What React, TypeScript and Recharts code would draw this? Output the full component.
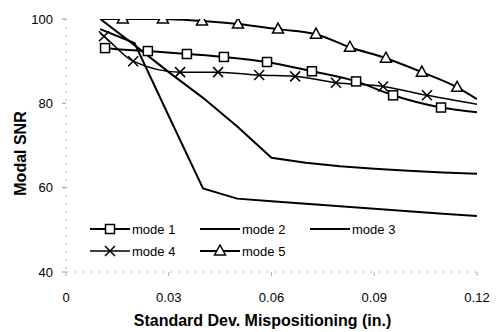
import { ComposedChart, Legend, Line, Scatter, XAxis, YAxis } from 'recharts';

type Pt = [number, number];

// marker positions: [std dev (in.), modal SNR]
const mode1Marks: Pt[] = [
  [0.0114, 93.1], [0.0239, 92.4], [0.0353, 91.7], [0.0461, 91.0], [0.0587, 89.8],
  [0.0718, 87.6], [0.0847, 85.2], [0.0955, 81.9], [0.1095, 79.0],
];
const mode1Ends: Pt[] = [[0.01, 93.3], [0.12, 77.9]];

const mode4Marks: Pt[] = [
  [0.0111, 95.9], [0.0196, 90.0], [0.0333, 87.4], [0.0444, 87.4], [0.0564, 86.7],
  [0.0669, 86.4], [0.0788, 84.9], [0.0926, 84.0], [0.1054, 81.9],
];
const mode4Ends: Pt[] = [[0.01, 96.6], [0.12, 79.8]];

const mode5Marks: Pt[] = [
  [0.0166, 100], [0.0283, 100], [0.0397, 99.5], [0.0502, 98.8], [0.0619, 97.6],
  [0.073, 96.4], [0.0829, 93.3], [0.0934, 90.7], [0.1039, 87.4], [0.1142, 83.8],
];
const mode5Ends: Pt[] = [[0.01, 100], [0.12, 81.0]];

// no markers on these two
const mode2: Pt[] = [
  [0.01, 100], [0.02, 93.8], [0.03, 87.4], [0.04, 81.3], [0.05, 74.5], [0.06, 67.1],
  [0.07, 65.9], [0.08, 65.1], [0.09, 64.5], [0.1, 64.0], [0.11, 63.6], [0.12, 63.3],
];
const mode3: Pt[] = [
  [0.01, 97.6], [0.02, 94.3], [0.03, 77.0], [0.04, 59.8], [0.05, 57.4], [0.06, 56.8],
  [0.07, 56.2], [0.08, 55.6], [0.09, 55.0], [0.1, 54.4], [0.11, 53.8], [0.12, 53.3],
];

const xTicks = [0, 0.03, 0.06, 0.09, 0.12];
const yTicks = [40, 60, 80, 100];

const FONT = '"Liberation Sans", Arial, sans-serif';

const toXY = (pts: Pt[]) => pts.map(([x, y]) => ({ x, y }));
const withEnds = (ends: Pt[], marks: Pt[]) => [ends[0], ...marks, ends[1]];

type MarkerKind = 'square' | 'cross' | 'triangle' | null;

const SERIES: { name: string; line: Pt[]; marks: Pt[]; marker: MarkerKind; width: number; curve: 'monotone' | 'linear' }[] = [
  { name: 'mode 1', line: withEnds(mode1Ends, mode1Marks), marks: mode1Marks, marker: 'square', width: 2, curve: 'monotone' },
  { name: 'mode 2', line: mode2, marks: [], marker: null, width: 2, curve: 'linear' },
  { name: 'mode 3', line: mode3, marks: [], marker: null, width: 2, curve: 'linear' },
  { name: 'mode 4', line: withEnds(mode4Ends, mode4Marks), marks: mode4Marks, marker: 'cross', width: 1.5, curve: 'monotone' },
  { name: 'mode 5', line: withEnds(mode5Ends, mode5Marks), marks: mode5Marks, marker: 'triangle', width: 2, curve: 'monotone' },
];

function Marker({ kind, cx, cy }: { kind: MarkerKind; cx: number; cy: number }) {
  if (kind === 'square') {
    return <rect x={cx - 4.5} y={cy - 4.5} width={9} height={9} fill="#fff" stroke="#000" strokeWidth={1.5} />;
  }
  if (kind === 'cross') {
    return (
      <path
        d={`M${cx - 5},${cy - 5}L${cx + 5},${cy + 5}M${cx - 5},${cy + 5}L${cx + 5},${cy - 5}`}
        stroke="#000"
        strokeWidth={1.5}
        fill="none"
      />
    );
  }
  if (kind === 'triangle') {
    return (
      <path
        d={`M${cx},${cy - 6}L${cx + 5.5},${cy + 4}L${cx - 5.5},${cy + 4}Z`}
        fill="#fff"
        stroke="#000"
        strokeWidth={1.5}
      />
    );
  }
  return null;
}

const renderLegend = () => (
  <div style={{ display: 'flex', flexWrap: 'wrap', width: 330, fontFamily: FONT, fontSize: 13, color: '#000' }}>
    {SERIES.map((s) => (
      <div key={s.name} style={{ width: 110, height: 22, display: 'flex', alignItems: 'center' }}>
        <svg width={40} height={14}>
          <line x1={0} x2={40} y1={7} y2={7} stroke="#000" strokeWidth={s.width} />
          {s.marker && <Marker kind={s.marker} cx={20} cy={7} />}
        </svg>
        <span style={{ marginLeft: 2 }}>{s.name}</span>
      </div>
    ))}
  </div>
);

const titleStyle = { fontSize: 16, fontWeight: 'bold' as const, fill: '#000', fontFamily: FONT };

// axis titles sit a little off-centre in the scan
const XTitle = (props: any) => {
  const vb = props.viewBox ?? { x: 66, y: 272, width: 411, height: 60 };
  return (
    <text x={vb.x + vb.width / 2 - 9} y={vb.y + vb.height - 6} textAnchor="middle" {...titleStyle}>
      Standard Dev. Mispositioning (in.)
    </text>
  );
};

const YTitle = (props: any) => {
  const vb = props.viewBox ?? { x: 0, y: 19, width: 66, height: 253 };
  const cx = vb.x + 20;
  const cy = vb.y + vb.height / 2 + 8;
  return (
    <text x={cx} y={cy} transform={`rotate(-90, ${cx}, ${cy})`} textAnchor="middle" dominantBaseline="central" {...titleStyle}>
      Modal SNR
    </text>
  );
};

const faintAxis = { stroke: '#b5b5b5', strokeDasharray: '2 6' };
const tickStyle = { fontSize: 13, fill: '#000', fontFamily: FONT };

export default function App() {
  return (
    <div style={{ position: 'absolute', left: 0, top: 0, width: 500, height: 332, background: '#fff' }}>
      <ComposedChart width={500} height={332} margin={{ top: 19, right: 23, left: 0, bottom: 0 }} style={{ fontFamily: FONT }}>
        <XAxis
          type="number"
          dataKey="x"
          domain={[0, 0.12]}
          ticks={xTicks}
          allowDataOverflow
          height={60}
          axisLine={faintAxis}
          tickLine={{ stroke: '#aaa' }}
          tickSize={4}
          tickMargin={17}
          tick={tickStyle}
          label={XTitle}
        />
        <YAxis
          type="number"
          dataKey="y"
          domain={[40, 100]}
          ticks={yTicks}
          allowDataOverflow
          width={66}
          axisLine={faintAxis}
          tickLine={{ stroke: '#999' }}
          tickSize={4}
          tickMargin={9}
          tick={tickStyle}
          label={YTitle}
        />
        {SERIES.map((s) => (
          <Line
            key={s.name}
            data={toXY(s.line)}
            dataKey="y"
            type={s.curve}
            stroke="#000"
            strokeWidth={s.width}
            dot={false}
            activeDot={false}
            isAnimationActive={false}
            legendType="none"
          />
        ))}
        {SERIES.filter((s) => s.marker).map((s) => (
          <Scatter
            key={s.name + '-marks'}
            data={toXY(s.marks)}
            isAnimationActive={false}
            legendType="none"
            shape={(p: any) => <Marker kind={s.marker} cx={p.cx} cy={p.cy} />}
          />
        ))}
        <Legend
          layout="horizontal"
          verticalAlign="middle"
          align="center"
          content={renderLegend}
          wrapperStyle={{ left: 90, top: 218, width: 330 }}
        />
      </ComposedChart>
    </div>
  );
}
